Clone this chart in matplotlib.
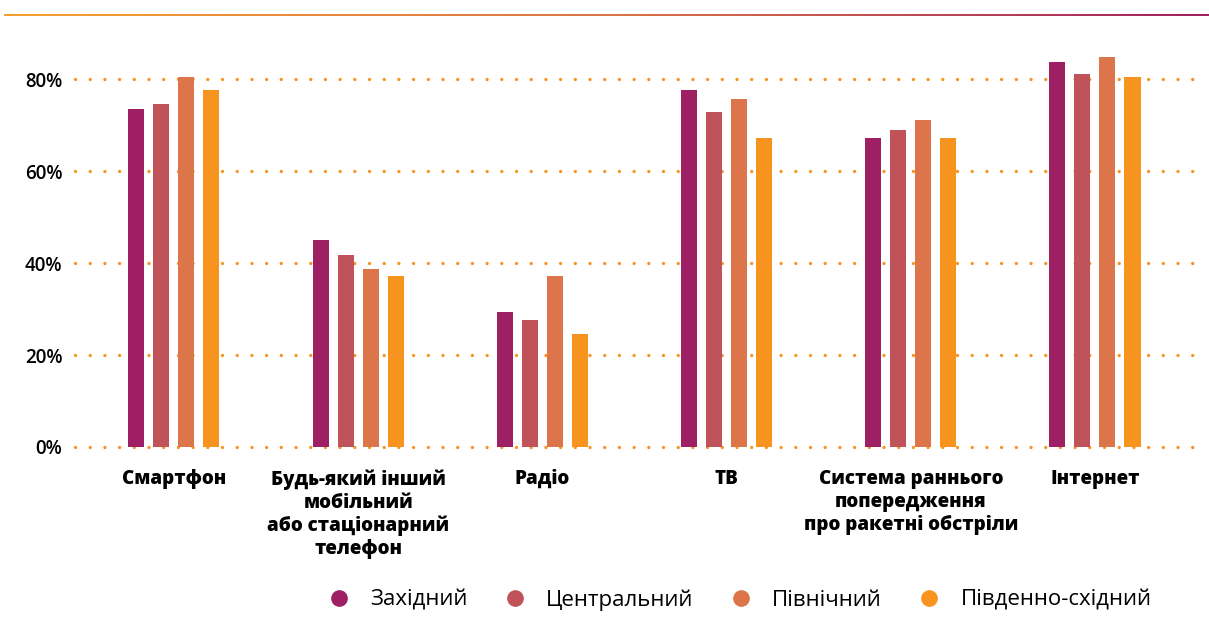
import numpy as np
import matplotlib
matplotlib.use("Agg")
import matplotlib.pyplot as plt
from matplotlib.lines import Line2D
from matplotlib.colors import LinearSegmentedColormap

plt.rcParams['font.family'] = ['Open Sans', 'DejaVu Sans']

categories = ["Смартфон", "Будь-який інший\nмобільний\nабо стаціонарний\nтелефон", "Радіо", "ТВ",
              "Система раннього\nпопередження\nпро ракетні обстріли", "Інтернет"]
series_names = ["Західний", "Центральний", "Північний", "Південно-східний"]
zakhidnyi = [73.6, 45.1, 29.4, 77.7, 67.3, 83.8]
tsentralnyi = [74.7, 41.8, 27.6, 72.9, 69.0, 81.2]
pivnichnyi = [80.5, 38.7, 37.2, 75.8, 71.2, 84.9]
pivdenno_skhidnyi = [77.7, 37.2, 24.6, 67.3, 67.3, 80.5]
yticks = [0, 20, 40, 60, 80]
ytick_labels = ["0%", "20%", "40%", "60%", "80%"]

series = [zakhidnyi, tsentralnyi, pivnichnyi, pivdenno_skhidnyi]
colors = ["#9E1F63", "#C0535A", "#DC7549", "#F7941F"]

W, H = 1209, 643
fig = plt.figure(figsize=(W/100, H/100), dpi=100)
ax = fig.add_axes([75/W, (H-447)/H, (1200-75)/W, (447-33.5)/H])

x = np.arange(len(categories))
step = 25/184.2
bw = 16/184.2
for i, (vals, c) in enumerate(zip(series, colors)):
    ax.bar(x + (i-1.5)*step, vals, width=bw, color=c, zorder=3, label=series_names[i])

ax.set_xlim(-0.537, 5.57)
ax.set_ylim(0, 90)
ax.set_yticks(yticks)
ax.set_yticklabels(ytick_labels, fontsize=13.5, fontweight='semibold')
ax.tick_params(axis='y', length=0, pad=9)
ax.set_xticks(x)
ax.set_xticklabels(categories, fontsize=13.5, fontweight='heavy', linespacing=1.2, va='top')
ax.tick_params(axis='x', length=0, pad=16)
for s in ax.spines.values():
    s.set_visible(False)
for yv in yticks:
    ax.axhline(yv, color="#F7941F", linestyle=(0, (0.01, 4.4)), linewidth=2.4,
               dash_capstyle='round', zorder=1, clip_on=False)

# legend
handles = [Line2D([], [], marker='o', linestyle='none', markersize=11,
                  markerfacecolor=c, markeredgecolor=c) for c in colors]
fig.legend(handles, series_names, loc='center', bbox_to_anchor=(734/W, 1-600/H),
           ncol=4, frameon=False, handletextpad=0.42, columnspacing=1.12,
           prop={'family': ['Open Sans', 'DejaVu Sans'], 'size': 16})

# gradient top line
cmap = LinearSegmentedColormap.from_list("g", ["#F7A030", "#DC7549", "#A0215F"])
gax = fig.add_axes([4/W, 1-16.5/H, 1-4/W, 3/H])
gax.imshow(np.linspace(0, 1, 512)[None, :], aspect='auto', cmap=cmap,
           extent=(0, 1, 0, 1))
gax.set_axis_off()

fig.savefig("out.png", dpi=100)
